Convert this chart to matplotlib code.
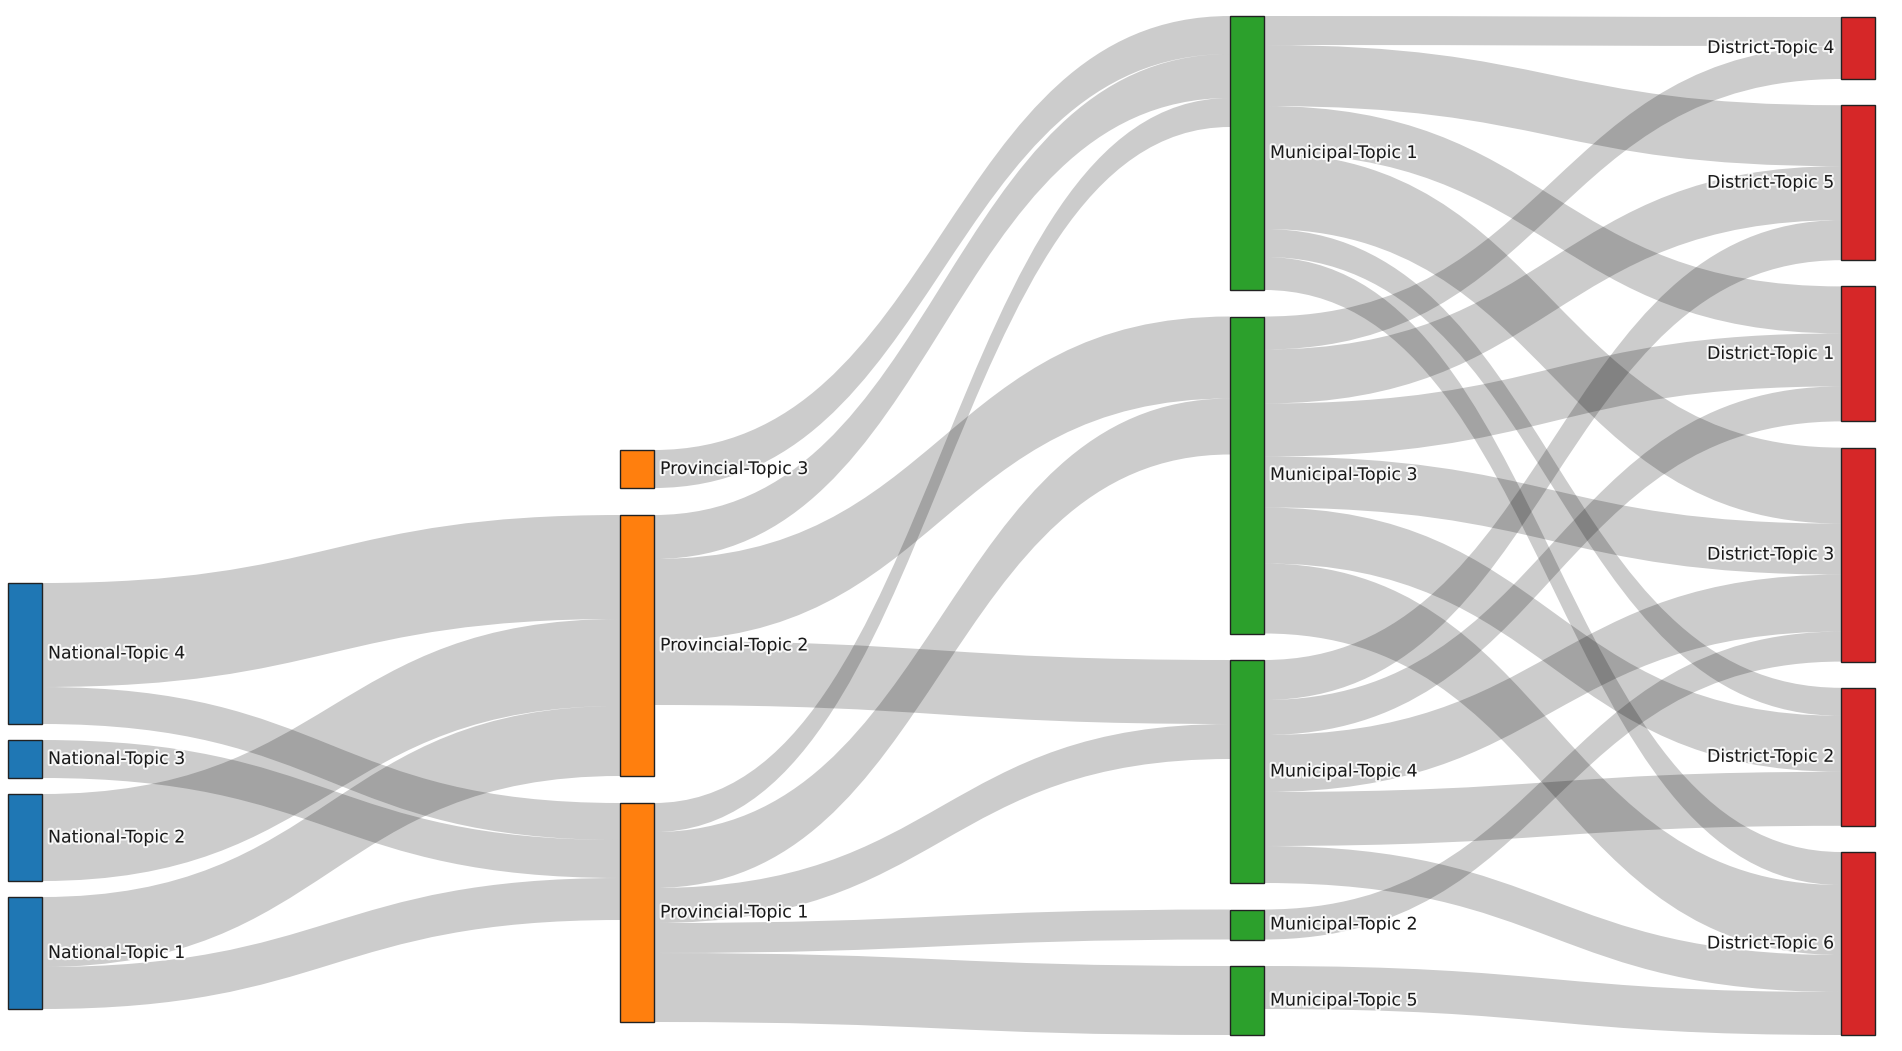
import matplotlib
matplotlib.use("Agg")
import matplotlib.pyplot as plt
from matplotlib.path import Path
from matplotlib.patches import PathPatch, Rectangle
import matplotlib.patheffects as pe

# ---------------- data ----------------
national = ["National-Topic 4", "National-Topic 3", "National-Topic 2", "National-Topic 1"]
provincial = ["Provincial-Topic 3", "Provincial-Topic 2", "Provincial-Topic 1"]
municipal = ["Municipal-Topic 1", "Municipal-Topic 3", "Municipal-Topic 4",
             "Municipal-Topic 2", "Municipal-Topic 5"]
district = ["District-Topic 4", "District-Topic 5", "District-Topic 1",
            "District-Topic 3", "District-Topic 2", "District-Topic 6"]

link_source = [
    "National-Topic 4", "National-Topic 4", "National-Topic 3", "National-Topic 2",
    "National-Topic 1", "National-Topic 1",
    "Provincial-Topic 3", "Provincial-Topic 2", "Provincial-Topic 2", "Provincial-Topic 2",
    "Provincial-Topic 1", "Provincial-Topic 1", "Provincial-Topic 1", "Provincial-Topic 1",
    "Provincial-Topic 1",
    "Municipal-Topic 1", "Municipal-Topic 1", "Municipal-Topic 1", "Municipal-Topic 1",
    "Municipal-Topic 1", "Municipal-Topic 1",
    "Municipal-Topic 3", "Municipal-Topic 3", "Municipal-Topic 3", "Municipal-Topic 3",
    "Municipal-Topic 3", "Municipal-Topic 3",
    "Municipal-Topic 4", "Municipal-Topic 4", "Municipal-Topic 4", "Municipal-Topic 4",
    "Municipal-Topic 4",
    "Municipal-Topic 2", "Municipal-Topic 5",
]
link_target = [
    "Provincial-Topic 2", "Provincial-Topic 1", "Provincial-Topic 1", "Provincial-Topic 2",
    "Provincial-Topic 2", "Provincial-Topic 1",
    "Municipal-Topic 1", "Municipal-Topic 1", "Municipal-Topic 3", "Municipal-Topic 4",
    "Municipal-Topic 1", "Municipal-Topic 3", "Municipal-Topic 4", "Municipal-Topic 2",
    "Municipal-Topic 5",
    "District-Topic 4", "District-Topic 5", "District-Topic 1", "District-Topic 3",
    "District-Topic 2", "District-Topic 6",
    "District-Topic 4", "District-Topic 5", "District-Topic 1", "District-Topic 3",
    "District-Topic 2", "District-Topic 6",
    "District-Topic 5", "District-Topic 1", "District-Topic 3", "District-Topic 2",
    "District-Topic 6",
    "District-Topic 3", "District-Topic 6",
]
link_value = [
    104, 37, 38, 87, 70, 42,
    38, 44, 82, 64, 29, 56, 35, 30, 69,
    29, 61, 47, 76, 28, 33,
    33, 54, 53, 51, 56, 70,
    40, 35, 57, 54, 37,
    30, 43,
]

# ---------------- layout ----------------
W, H = 1902, 1051
columns = [national, provincial, municipal, district]
col_colors = ["#1f77b4", "#ff7f0e", "#2ca02c", "#d62728"]
col_x = [8, 620, 1230, 1841]
col_extent = [(583, 1009), (450, 1022), (16, 1035), (17, 1035)]
node_w = 34
scale = 1.0

fig = plt.figure(figsize=(W / 100, H / 100), dpi=100)
ax = fig.add_axes([0, 0, 1, 1])
ax.set_xlim(0, W)
ax.set_ylim(H, 0)
ax.axis("off")

# node values
val_in = {}
val_out = {}
for s, t, v in zip(link_source, link_target, link_value):
    val_out[s] = val_out.get(s, 0) + v
    val_in[t] = val_in.get(t, 0) + v

node_pos = {}
for ci, col in enumerate(columns):
    sizes = [max(val_in.get(n, 0), val_out.get(n, 0)) * scale for n in col]
    top, bot = col_extent[ci]
    gap = (bot - top - sum(sizes)) / (len(col) - 1)
    y = top
    for n, s in zip(col, sizes):
        node_pos[n] = (col_x[ci], y, s, ci)
        y += s + gap

def center(n):
    x, y, h, _ = node_pos[n]
    return y + h / 2

# link stacking
links = list(zip(link_source, link_target, link_value))
out_off = {n: node_pos[n][1] for n in node_pos}
in_off = {n: node_pos[n][1] for n in node_pos}
src_y = {}
tgt_y = {}
for n in node_pos:
    outs = sorted([i for i, l in enumerate(links) if l[0] == n], key=lambda i: center(links[i][1]))
    for i in outs:
        src_y[i] = out_off[n]
        out_off[n] += links[i][2] * scale
    ins = sorted([i for i, l in enumerate(links) if l[1] == n], key=lambda i: center(links[i][0]))
    for i in ins:
        tgt_y[i] = in_off[n]
        in_off[n] += links[i][2] * scale

for i, (s, t, v) in enumerate(links):
    xs = node_pos[s][0] + node_w
    xt = node_pos[t][0]
    xm = (xs + xt) / 2
    h = v * scale
    y0, y1 = src_y[i], tgt_y[i]
    verts = [(xs, y0), (xm, y0), (xm, y1), (xt, y1),
             (xt, y1 + h), (xm, y1 + h), (xm, y0 + h), (xs, y0 + h), (xs, y0)]
    codes = [Path.MOVETO, Path.CURVE4, Path.CURVE4, Path.CURVE4,
             Path.LINETO, Path.CURVE4, Path.CURVE4, Path.CURVE4, Path.CLOSEPOLY]
    ax.add_patch(PathPatch(Path(verts, codes), facecolor=(0, 0, 0, 0.2),
                           edgecolor="none", zorder=1))

halo = [pe.withStroke(linewidth=3, foreground="white", alpha=0.85)]
for n, (x, y, h, ci) in node_pos.items():
    ax.add_patch(Rectangle((x, y), node_w, h, facecolor=col_colors[ci],
                           edgecolor="#222222", linewidth=1.0, zorder=2))
    if ci < 3:
        ax.text(x + node_w + 6, y + h / 2, n, ha="left", va="center",
                fontsize=12.5, color="#1a1a1a", zorder=3, path_effects=halo)
    else:
        ax.text(x - 6, y + h / 2, n, ha="right", va="center",
                fontsize=12.5, color="#1a1a1a", zorder=3, path_effects=halo)

fig.savefig("out.png", dpi=100, facecolor="white")
